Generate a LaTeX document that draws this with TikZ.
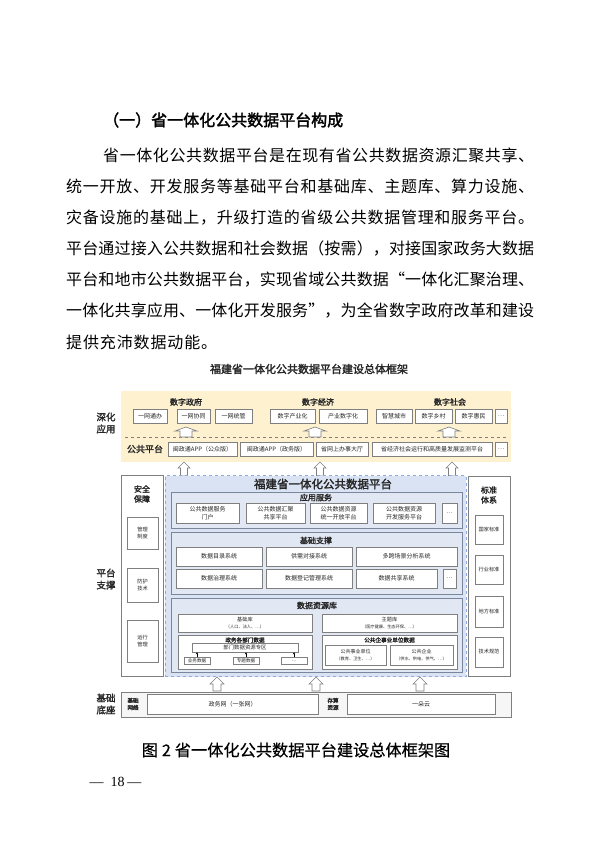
\documentclass[tikz,border=0pt]{standalone}
\usepackage{fontspec}
\setmainfont{Noto Sans CJK SC}[AutoFakeBold=2]
\newfontfamily\serifnum{Liberation Serif}
\usetikzlibrary{arrows.meta}
\XeTeXinterchartoks 0 0 = {\hskip 0pt plus 3pt minus 0.6pt\relax}
\XeTeXinterchartoks 0 1 = {\hskip 0pt plus 3pt minus 0.6pt\relax}
\XeTeXinterchartoks 0 2 = {\hskip 0pt plus 3pt minus 0.6pt\relax}
\XeTeXinterchartoks 0 3 = {\hskip 0pt plus 3pt minus 0.6pt\relax}
\XeTeXinterchartoks 1 0 = {\hskip 0pt plus 3pt minus 0.6pt\relax}
\XeTeXinterchartoks 1 1 = {\hskip 0pt plus 3pt minus 0.6pt\relax}
\XeTeXinterchartoks 1 2 = {\hskip 0pt plus 3pt minus 0.6pt\relax}
\XeTeXinterchartoks 1 3 = {\hskip 0pt plus 3pt minus 0.6pt\relax}
\XeTeXinterchartoks 2 0 = {\hskip 0pt plus 3pt minus 0.6pt\relax}
\XeTeXinterchartoks 2 1 = {\hskip 0pt plus 3pt minus 0.6pt\relax}
\XeTeXinterchartoks 2 2 = {\hskip 0pt plus 3pt minus 0.6pt\relax}
\XeTeXinterchartoks 2 3 = {\hskip 0pt plus 3pt minus 0.6pt\relax}
\XeTeXinterchartoks 3 0 = {\hskip 0pt plus 3pt minus 0.6pt\relax}
\XeTeXinterchartoks 3 1 = {\hskip 0pt plus 3pt minus 0.6pt\relax}
\XeTeXinterchartoks 3 2 = {\hskip 0pt plus 3pt minus 0.6pt\relax}
\XeTeXinterchartoks 3 3 = {\hskip 0pt plus 3pt minus 0.6pt\relax}
\newcommand\jline[2]{{\XeTeXinterchartokenstate=1 \makebox[#1][s]{#2}}}
\definecolor{ybg}{HTML}{FDF1D0}
\definecolor{pbg}{HTML}{DAE3F3}
\definecolor{pbd}{HTML}{8FAADC}
\definecolor{sbg}{HTML}{E1E7F3}
\definecolor{sbd}{HTML}{7A869C}
\definecolor{bd}{HTML}{7F7F7F}
\definecolor{tx}{HTML}{262626}
\newcommand\fs[2]{\fontsize{#1}{#2}\selectfont}
\newcommand\mybox[7][box]{\node[#1, minimum width={#5-#3}, minimum height={#6-#4}] (#2) at ({(#3+#5)/2},{(#4+#6)/2}) {#7};}
\newcommand\hollowarrow[6]{\draw[hol] ({#1},{#2}) -- ({#1+#4},{#2+#6}) -- ({#1+#5},{#2+#6}) -- ({#1+#5},{#3}) -- ({#1-#5},{#3}) -- ({#1-#5},{#2+#6}) -- ({#1-#4},{#2+#6}) -- cycle;}
\tikzset{
  box/.style={draw=bd, fill=white, line width=0.5pt, inner sep=0pt, align=center, text=tx, font=\fs{6}{7.5}},
  sbox/.style={box, font=\fs{5.2}{6.8}},
  tbox/.style={box, font=\fs{4.6}{6}},
  sec/.style={draw=sbd, fill=sbg, line width=0.7pt, inner sep=0pt},
  col/.style={draw=bd, fill=white, line width=0.7pt, inner sep=0pt},
  lbl/.style={font=\fs{9.5}{12}\bfseries, align=center, text=tx, inner sep=0pt},
  clbl/.style={font=\fs{8}{10}\bfseries, align=center, text=tx, inner sep=0pt},
  grp/.style={font=\fs{8}{10}\bfseries, text=tx, inner sep=0pt},
  sectitle/.style={font=\fs{8}{10}\bfseries, text=tx, inner sep=0pt},
  sub/.style={font=\fs{5.6}{7}\bfseries, text=tx, inner sep=0pt},
  hol/.style={draw=bd, fill=white, line width=0.6pt, line join=miter},
  para/.style={anchor=west, inner sep=0pt, font=\fs{16}{18}, text=black},
}
\begin{document}
\begin{tikzpicture}[x=1pt,y=-1pt]
\useasboundingbox[fill=white] (0,0) rectangle (600,848);

% ---------- text above ----------
\node[anchor=west, inner sep=0pt, font=\fs{16}{18}\bfseries] (head) at (103,120) {（一）省一体化公共数据平台构成};
\node[para] (p1) at (103,155) {\jline{431pt}{省一体化公共数据平台是在现有省公共数据资源汇聚共享、}};
\node[para] (p2) at (66,186) {\jline{468pt}{统一开放、开发服务等基础平台和基础库、主题库、算力设施、}};
\node[para] (p3) at (66,218) {\jline{468pt}{灾备设施的基础上，升级打造的省级公共数据管理和服务平台。}};
\node[para] (p4) at (66,249) {\jline{468pt}{平台通过接入公共数据和社会数据（按需），对接国家政务大数据}};
\node[para] (p5) at (66,280) {\jline{468pt}{平台和地市公共数据平台，实现省域公共数据“一体化汇聚治理、}};
\node[para] (p6) at (66,311) {\jline{468pt}{一体化共享应用、一体化开发服务”，为全省数字政府改革和建设}};
\node[para] (p7) at (66,342) {\jline{151pt}{提供充沛数据动能。}};

% ---------- diagram title ----------
\node[font=\fs{11}{13}\bfseries, text=tx, inner sep=0pt] (title) at (309,369) {福建省一体化公共数据平台建设总体框架};

% ---------- top yellow panel ----------
\node[fill=ybg, inner sep=0pt, minimum width=390, minimum height=71] (yel) at (316,426.5) {};
\node[lbl] (lshen) at (106,423) {深化\\应用};
\node[grp] (g1) at (186,402) {数字政府};
\node[grp] (g2) at (318,402) {数字经济};
\node[grp] (g3) at (450,402) {数字社会};
\mybox{a1}{133}{409}{167}{423}{一网通办}
\mybox{a2}{177}{409}{210}{423}{一网协同}
\mybox{a3}{215}{409}{252}{423}{一网统管}
\mybox{a4}{270}{409}{315}{423}{数字产业化}
\mybox{a5}{319}{409}{367}{423}{产业数字化}
\mybox{a6}{376}{409}{412}{423}{智慧城市}
\mybox{a7}{415}{409}{452}{423}{数字乡村}
\mybox{a8}{455}{409}{492}{423}{数字惠民}
\mybox{a9}{495}{409}{507}{423}{…}
\coordinate (dl1) at (125,437);
\coordinate (dl2) at (508,437);
\draw[bd, dashed, line width=0.7pt] (dl1) -- (dl2);
\hollowarrow{186}{427}{437}{11}{6}{4}
\hollowarrow{315}{427}{437}{11}{6}{4}
\hollowarrow{449}{427}{437}{11}{6}{4}
\node[font=\fs{9}{11}\bfseries, text=tx, inner sep=0pt] (gp) at (145,449) {公共平台};
\mybox{b1}{168}{442}{237}{456}{闽政通APP（公众版）}
\mybox{b2}{240}{442}{313}{456}{闽政通APP（政务版）}
\mybox{b3}{316}{442}{368}{456}{省网上办事大厅}
\mybox{b4}{372}{442}{492}{456}{省经济社会运行和高质量发展监测平台}
\mybox{b5}{495}{442}{507}{456}{…}

% arrows into platform
\hollowarrow{184}{462}{476}{6}{3.5}{6}
\hollowarrow{320}{462}{476}{6}{3.5}{6}
\hollowarrow{452}{462}{476}{6}{3.5}{6}

% ---------- left column ----------
\mybox[col]{lcol}{121}{475}{163}{676}{}
\node[clbl] (lsafe) at (142,494) {安全\\保障};
\mybox[sbox]{l1}{127}{517}{158}{549}{管理\\制度}
\mybox[sbox]{l2}{127}{568}{158}{602}{防护\\技术}
\mybox[sbox]{l3}{127}{620}{158}{662}{运行\\管理}
\node[lbl] (lplat) at (106,579) {平台\\支撑};

% ---------- right column ----------
\mybox[col]{rcol}{468}{476}{510}{676}{}
\node[clbl] (rstd) at (489,495) {标准\\体系};
\mybox[sbox]{r1}{475}{515}{503}{544}{国家标准}
\mybox[sbox]{r2}{475}{555}{503}{584}{行业标准}
\mybox[sbox]{r3}{475}{596}{503}{627}{地方标准}
\mybox[sbox]{r4}{475}{637}{503}{667}{技术规范}

% ---------- platform ----------
\node[draw=pbd, fill=pbg, dashed, line width=0.9pt, inner sep=0pt, minimum width=301, minimum height=201] (plat) at (315.5,576) {};
\node[font=\fs{11.5}{13}\bfseries, text=tx, inner sep=0pt] (ptitle) at (323,484) {福建省一体化公共数据平台};

% section 1
\mybox[sec]{s1}{171}{492}{462}{528}{}
\node[sectitle] (s1t) at (316,497.5) {应用服务};
\mybox{c1}{176}{503}{239}{523}{公共数据服务\\门户}
\mybox{c2}{246}{503}{305}{523}{公共数据汇聚\\共享平台}
\mybox{c3}{310}{503}{367}{523}{公共数据资源\\统一开放平台}
\mybox{c4}{373}{503}{435}{523}{公共数据资源\\开发服务平台}
\mybox{c5}{442}{503}{457}{523}{…}

% section 2
\mybox[sec]{s2}{171}{532}{462}{594}{}
\node[sectitle] (s2t) at (316,540.5) {基础支撑};
\mybox{d1}{176}{547}{262}{566}{数据目录系统}
\mybox{d2}{266}{547}{352}{566}{供需对接系统}
\mybox{d3}{356}{547}{457}{566}{多跨场景分析系统}
\mybox{d4}{176}{569}{262}{588}{数据治理系统}
\mybox{d5}{266}{569}{352}{588}{数据登记管理系统}
\mybox{d6}{356}{569}{437}{588}{数据共享系统}
\mybox{d7}{443}{569}{456}{588}{…}

% section 3
\mybox[sec]{s3}{171}{598}{462}{672}{}
\node[sectitle] (s3t) at (317,605.5) {数据资源库};
\mybox[box,font=\fs{5.2}{6.5}]{e1}{178}{614}{312}{632}{基础库\\{\fs{4.2}{5}（人口、法人、…）}}
\mybox[box,font=\fs{5.2}{6.5}]{e2}{322}{614}{457}{632}{主题库\\{\fs{4.2}{5}（医疗健康、生态环保、…）}}
\mybox{e3}{178}{635}{312}{669}{}
\node[sub] (e3t) at (245,640) {政务各部门数据};
\mybox[tbox,font=\fs{5.4}{6}]{bar}{192}{643.5}{298}{652}{部门数据资源专区}
\mybox[tbox]{f1}{184}{657}{210}{664.5}{业务数据}
\mybox[tbox]{f2}{233}{657}{259}{664.5}{专题数据}
\mybox[tbox]{f3}{281}{657}{307}{664.5}{…}
\foreach \f in {f1,f2,f3}{
  \draw[-{Stealth[length=2.2pt,width=2.4pt]}, line width=0.6pt, black] (\f.north) -- (\f.north |- bar.south);
}
\mybox{e4}{322}{635}{457}{669}{}
\node[sub] (e4t) at (389.5,640) {公共企事业单位数据};
\mybox[box,font=\fs{5}{6.5}]{g1b}{325}{645}{386}{665}{公共事业单位\\{\fs{4.2}{5}（教育、卫生、…）}}
\mybox[box,font=\fs{5}{6.5}]{g2b}{390}{645}{453}{665}{公共企业\\{\fs{4.2}{5}（供水、供电、供气、…）}}

% arrows into base
\hollowarrow{217}{677}{691}{7}{4}{7}
\hollowarrow{316}{677}{691}{7}{4}{7}
\hollowarrow{420}{677}{691}{7}{4}{7}

% ---------- base ----------
\node[draw=bd, fill=gray!7, line width=1pt, inner sep=0pt, minimum width=390, minimum height=25] (base) at (316,704.5) {};
\node[lbl] (lbase) at (106,704) {基础\\底座};
\node[font=\fs{5.6}{7}\bfseries, align=center, text=tx, inner sep=0pt] (net) at (133,704) {基础\\网络};
\mybox{h1}{147}{694}{318}{714.5}{政务网（一张网）}
\node[font=\fs{5.6}{7}\bfseries, align=center, text=tx, inner sep=0pt] (cmp) at (333,704) {存算\\资源};
\mybox{h2}{347}{694}{495}{714.5}{一朵云}

% ---------- caption and page number ----------
\node[font=\fs{16.2}{19}\addfontfeature{FakeBold=0.6}, inner sep=0pt] (cap) at (296,750) {图\hspace{4pt}2\hspace{4pt}省一体化公共数据平台建设总体框架图};
\node[font=\serifnum\fs{14}{16}, inner sep=0pt] (pg) at (115.5,782) {—\hspace{7pt}18\hspace{3pt}—};
\end{tikzpicture}
\end{document}
